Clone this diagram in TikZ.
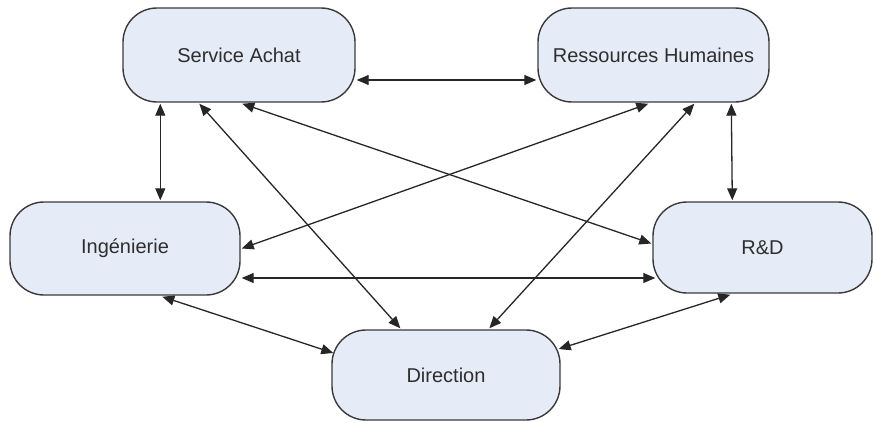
\documentclass[tikz,border=0pt]{standalone}
\usepackage{fontspec}
\setmainfont{Liberation Sans}
\usetikzlibrary{arrows.meta,calc}
\definecolor{boxfill}{HTML}{E6ECF7}
\definecolor{boxline}{HTML}{3A3A3A}
\definecolor{txt}{HTML}{2E2E2E}
\begin{document}
\begin{tikzpicture}[x=1pt,y=-1pt,
  dept/.style={draw=boxline, fill=boxfill, line width=1.4pt, rounded corners=34pt,
    inner sep=0pt, text=txt, font=\fontsize{20}{24}\selectfont},
  link/.style={line width=1.3pt, draw=black!85,
    {Triangle[length=12pt,width=10pt]}-{Triangle[length=12pt,width=10pt]}}]
\useasboundingbox (0,0) rectangle (873,423);
\node[dept, minimum width=232pt, minimum height=94pt] (sa) at (239,55) {Service Achat};
\node[dept, minimum width=231pt, minimum height=94pt] (rh) at (653.5,55) {Ressources Humaines};
\node[dept, minimum width=230pt, minimum height=93pt] (ing) at (125,248.5) {Ingénierie};
\node[dept, minimum width=219pt, minimum height=91pt] (rd) at (762.5,247.5) {R\&D};
\node[dept, minimum width=228pt, minimum height=90pt] (dir) at (446,375) {Direction};

\draw[link] ($(sa.east)+(1,25)$) -- ($(rh.west)+(-1,25)$);
\draw[link] ($(sa.south west)+(38,1)$) -- ($(ing.north west)+(151,-1)$);
\draw[link] ($(sa.south west)+(77,1)$) -- ($(dir.north west)+(69,-1)$);
\draw[link] ($(sa.south west)+(120,1)$) -- ($(rd.west)+(-1,-4)$);
\draw[link] ($(rh.south west)+(194,1)$) -- ($(rd.north west)+(80,-1)$);
\draw[link] ($(rh.south west)+(111,1)$) -- ($(ing.east)+(1,0)$);
\draw[link] ($(rh.south west)+(157,1)$) -- ($(dir.north west)+(158,-1)$);
\draw[link] ($(ing.east)+(1,29.5)$) -- ($(rd.west)+(3,30.5)$);
\draw[link] ($(ing.south west)+(153,1)$) -- ($(dir.west)+(2,-22)$);
\draw[link] ($(rd.south west)+(78,1)$) -- ($(dir.east)+(-2,-26)$);
\end{tikzpicture}
\end{document}
